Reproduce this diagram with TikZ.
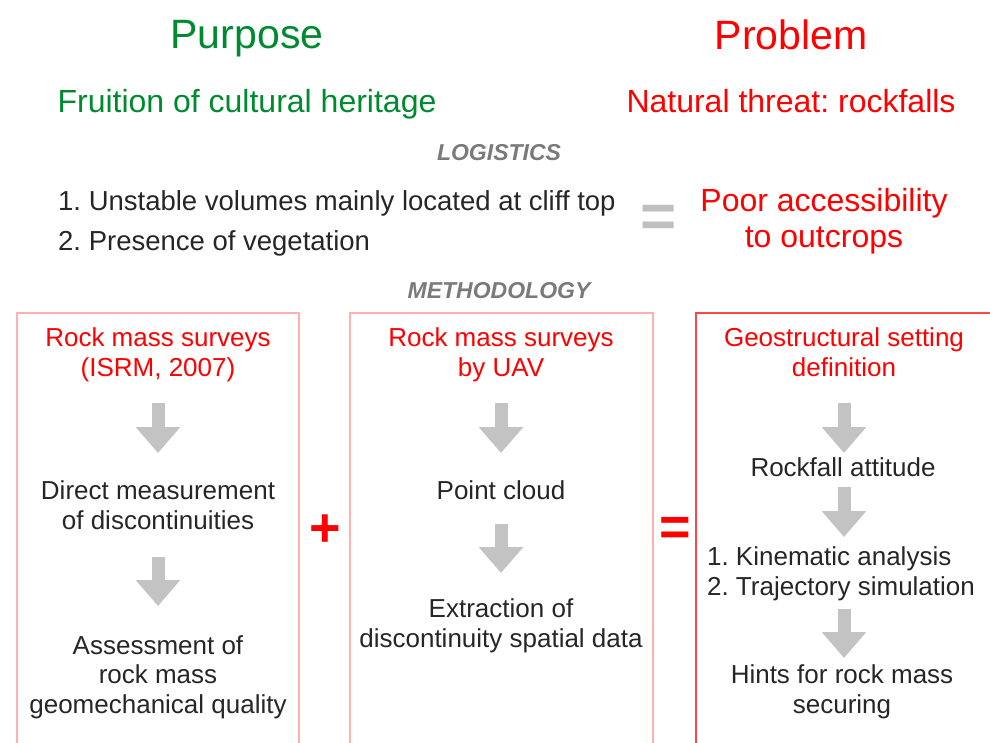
\documentclass[tikz,border=0pt]{standalone}
\usepackage{fontspec}
\setmainfont{Liberation Sans}
\usetikzlibrary{arrows.meta}
\frenchspacing

\definecolor{pgreen}{RGB}{0,138,48}
\definecolor{pred}{RGB}{255,0,0}
\definecolor{boxpink}{RGB}{255,176,176}
\definecolor{boxred}{RGB}{255,70,70}
\definecolor{inkgray}{RGB}{38,38,38}
\definecolor{flowgray}{RGB}{195,195,195}

\begin{document}
\begin{tikzpicture}[x=1pt,y=-1pt,
    big/.style={font=\fontsize{41}{45}\selectfont, inner sep=0pt},
    sub/.style={font=\fontsize{32}{36}\selectfont, inner sep=0pt, align=center},
    caption/.style={font=\fontsize{23}{26}\selectfont\bfseries\itshape, text=black!52},
    body/.style={font=\fontsize{26}{29.5}\selectfont, text=inkgray, align=center, inner sep=0pt},
    head/.style={body, text=pred},
    sign/.style={font=\fontsize{54}{54}\selectfont\bfseries, text=pred, inner sep=0pt},
    flow/.style={flowgray, line width=13pt, -{Triangle[width=43pt,length=26pt]}}]
    \useasboundingbox (0,0) rectangle (990,742);
    \clip (0,0) rectangle (990,742);

    % headings
    \node[big, text=pgreen] (purpose) at (247,39) {Purpose};
    \node[big, text=pred] (problem) at (791,35) {Problem};
    \node[sub, text=pgreen] (fruition) at (247,104) {Fruition of cultural heritage};
    \node[sub, text=pred] (threat) at (791,101) {Natural threat: rockfalls};

    % logistics
    \node[caption] (logistics) at (499,153) {LOGISTICS};
    \node[body, anchor=west, align=left, font=\fontsize{27.5}{40}\selectfont] (causes) at (58,223)
        {1. Unstable volumes mainly located at cliff top\\2. Presence of vegetation};
    \node[sign, font=\fontsize{62}{62}\selectfont\bfseries, text=black!25] (same) at (659,221) {=};
    \node[sub, text=pred] (access) at (824,221) {Poor accessibility\\to outcrops};

    % methodology
    \node[caption] (method) at (499,291) {METHODOLOGY};
    \draw[boxpink, line width=1.3pt] (17,313) rectangle (299,760);
    \draw[boxpink, line width=1.3pt] (350,313) rectangle (653,760);
    \draw[boxred, line width=1.6pt] (696,313) rectangle (1000,760);

    \node[sign] (plus) at (325,531) {+};
    \node[sign] (equal) at (675,531) {=};

    % field surveys
    \node[head] (isrm) at (158,355) {Rock mass surveys\\(ISRM, 2007)};
    \node[body] (direct) at (158,505) {Direct measurement\\of discontinuities};
    \node[body] (quality) at (158,677) {Assessment of\\rock mass\\geomechanical quality};
    \coordinate (f1) at (158,403);
    \coordinate (f2) at (158,453);
    \coordinate (f3) at (158,557);
    \coordinate (f4) at (158,606);

    % drone surveys
    \node[head] (uav) at (501,355) {Rock mass surveys\\by UAV};
    \node[body] (cloud) at (501,490) {Point cloud};
    \node[body] (extract) at (501,626) {Extraction of\\discontinuity spatial data};
    \coordinate (u1) at (501,403);
    \coordinate (u2) at (501,453);
    \coordinate (u3) at (501,524);
    \coordinate (u4) at (501,573);

    % setting
    \node[head] (geo) at (844,352) {Geostructural setting\\definition};
    \node[body] (attitude) at (843,467) {Rockfall attitude};
    \node[body, align=left] (analysis) at (841,574) {1. Kinematic analysis\\2. Trajectory simulation};
    \node[body] (hints) at (842,692) {Hints for rock mass\\securing};
    \coordinate (g1) at (844,403);
    \coordinate (g2) at (844,453);
    \coordinate (g3) at (844,487);
    \coordinate (g4) at (844,537);
    \coordinate (g5) at (844,609);
    \coordinate (g6) at (844,658);

    \foreach \s/\e in {f1/f2,f3/f4,u1/u2,u3/u4,g1/g2,g3/g4,g5/g6}
        \draw[flow] (\s) -- (\e);
\end{tikzpicture}
\end{document}
